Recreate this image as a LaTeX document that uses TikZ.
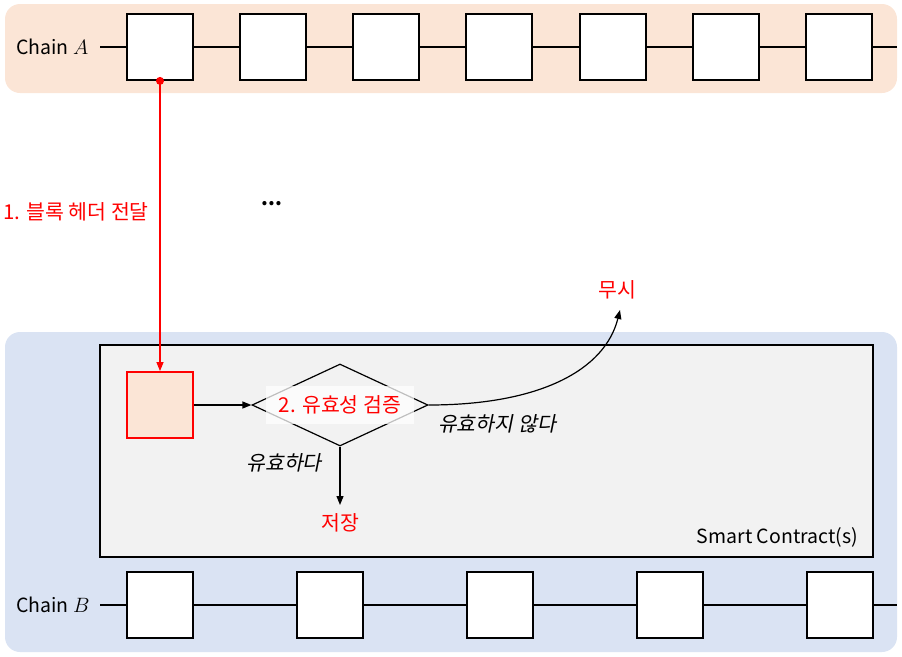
\documentclass[tikz,border=0pt]{standalone}
\usepackage{fontspec}
\setmainfont{Noto Sans CJK KR}
\newfontfamily\krit[FakeSlant=0.2]{Noto Sans CJK KR}
\usetikzlibrary{shapes.geometric,arrows.meta}
\definecolor{peach}{HTML}{FBE5D6}
\definecolor{paleblue}{HTML}{DAE3F3}
\definecolor{panel}{HTML}{F2F2F2}
\definecolor{kred}{HTML}{FF0000}
\tikzset{
  band/.style={draw=none, rounded corners=15pt},
  blockbox/.style={draw=black, line width=1.8pt, fill=white, minimum width=66pt, minimum height=66pt, inner sep=0pt},
  chainline/.style={line width=1.5pt},
  lbl/.style={font=\fontsize{19.5}{22}\selectfont, inner sep=0pt},
  redlbl/.style={font=\fontsize{20.5}{23}\selectfont, inner sep=0pt, text=kred},
  itlbl/.style={font=\fontsize{20.5}{23}\selectfont\krit, inner sep=0pt},
  arr/.style={line width=1.2pt, -{Triangle[length=9pt,width=7pt]}},
}
\begin{document}
\begin{tikzpicture}[x=1pt,y=-1pt]
\useasboundingbox (0,0) rectangle (902,656);
% bands
\fill[band, fill=peach] (5,4) rectangle (897,93);
\fill[band, fill=paleblue] (5,332) rectangle (897,652);
% smart contract panel
\node[draw=black, line width=1.8pt, fill=panel, minimum width=773pt, minimum height=212pt, inner sep=0pt, anchor=north west] (sc) at (99,344) {};
\node[lbl, anchor=base east] (sclbl) at (858,543) {Smart Contract(s)};
% Chain A
\node[lbl, anchor=base west] (chA) at (16,54) {Chain $A$};
\coordinate (aL) at (100,47);
\coordinate (aR) at (897,47);
\draw[chainline] (aL) -- (aR);
\foreach \i/\x in {1/160,2/273,3/386,4/499,5/613,6/726,7/839}{
  \node[blockbox] (a\i) at (\x,47) {};
}
% Chain B
\node[lbl, anchor=base west] (chB) at (16,612) {Chain $B$};
\coordinate (bL) at (100,605);
\coordinate (bR) at (897,605);
\draw[chainline] (bL) -- (bR);
\foreach \i/\x in {1/160,2/330,3/500,4/670,5/840}{
  \node[blockbox] (b\i) at (\x,605) {};
}
% relayed header
\node[draw=kred, line width=1.8pt, fill=peach, minimum width=66pt, minimum height=66pt, inner sep=0pt] (hdr) at (160,405) {};
\fill[kred] (a1.south) circle (4pt);
\draw[kred, line width=1.2pt, -{Triangle[length=9pt,width=7pt]}] (a1.south) -- (hdr.north);
\node[redlbl, anchor=base west] (step1) at (3,219) {1. 블록 헤더 전달};
\node[lbl, font=\fontsize{19.5}{22}\selectfont\bfseries] (dots) at (272,204) {...};
% diamond
\node[diamond, draw=black, line width=1.2pt, minimum width=176pt, minimum height=82pt, inner sep=0pt] (dia) at (340,405) {};
\node[redlbl, fill=white, fill opacity=0.75, text opacity=1, minimum width=148pt, minimum height=38pt] (step2) at (340,405) {2. 유효성 검증};
\draw[arr] (hdr.east) -- (dia.west);
% valid
\node[redlbl] (store) at (340,523) {저장};
\coordinate (storeTop) at (340,505);
\draw[arr] (dia.south) -- (storeTop);
\node[itlbl] (valid) at (284,463) {유효하다};
% invalid
\node[redlbl] (ignore) at (617,290) {무시};
\coordinate (ignoreTip) at (620,310);
\draw[arr] (dia.east) .. controls (540,405) and (605,370) .. (ignoreTip);
\node[itlbl] (invalid) at (497,424) {유효하지 않다};
\end{tikzpicture}
\end{document}
